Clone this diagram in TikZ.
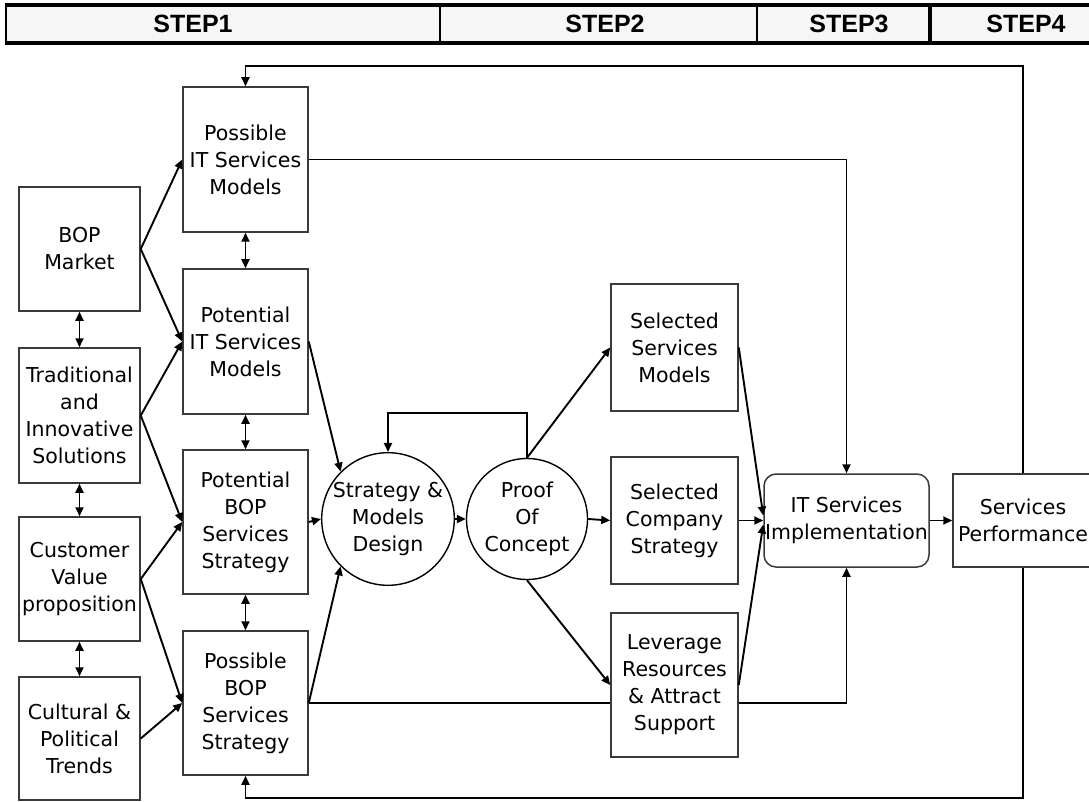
\documentclass[tikz,border=0pt]{standalone}
\usepackage{fontspec}
\setmainfont{DejaVu Sans}
\newfontfamily\hdrfont{Liberation Sans}
\usetikzlibrary{arrows.meta}
\definecolor{hdrfill}{HTML}{F6F6F6}
\definecolor{boxline}{HTML}{3A3A3A}
\begin{document}
\begin{tikzpicture}[x=1pt,y=-1pt,
  txt/.style={align=center, inner sep=0pt, font=\fontsize{20.5}{27}\selectfont},
  box/.style={txt, draw=boxline, line width=1.5pt, fill=white},
  lbox/.style={box, minimum width=121pt},
  mbox/.style={box, minimum width=125pt, minimum height=144pt},
  rbox/.style={box, minimum width=127pt},
  circ/.style={txt, circle, draw=black, line width=1.4pt, minimum size=121pt},
  hdr/.style={inner sep=0pt, font=\hdrfont\bfseries\fontsize{25}{30}\selectfont},
  conn/.style={line width=1.9pt, draw=black},
  arr/.style={conn, -{Triangle[length=9pt,width=8pt]}},
  darr/.style={conn, {Triangle[length=9pt,width=8pt]}-{Triangle[length=9pt,width=8pt]}}
]
\useasboundingbox (0,0) rectangle (1089,802);

% header
\fill[hdrfill] (6,5) rectangle (1095,43);
\draw[line width=3.5pt] (4.5,5) -- (1095,5);
\draw[line width=3.5pt] (4.5,43) -- (1095,43);
\draw[line width=2.5pt] (6,5) -- (6,43);
\draw[line width=2.2pt] (440,5) -- (440,43);
\draw[line width=1.8pt] (757,5) -- (757,43);
\draw[line width=3.2pt] (930,5) -- (930,43);
\node[hdr] (s1) at (193,24) {STEP1};
\node[hdr] (s2) at (605,24) {STEP2};
\node[hdr] (s3) at (849,24) {STEP3};
\node[hdr] (s4) at (1026,24) {STEP4};

% left column
\node[lbox, minimum height=124pt] (bop)  at (79.5,249)   {BOP\\Market};
\node[lbox, minimum height=135pt] (trad) at (79.5,415.5) {Traditional\\and\\Innovative\\Solutions};
\node[lbox, minimum height=124pt] (cust) at (79.5,579)   {Customer\\Value\\proposition};
\node[lbox, minimum height=123pt] (cult) at (79.5,738.5) {Cultural \&\\Political\\Trends};

% middle column
\node[mbox, minimum height=145pt] (pit)    at (245.5,159.5) {Possible\\IT Services\\Models};
\node[mbox, minimum height=145pt] (potit)  at (245.5,341.5) {Potential\\IT Services\\Models};
\node[mbox] (potbop) at (245.5,522) {Potential\\BOP\\Services\\Strategy};
\node[mbox] (posbop) at (245.5,703) {Possible\\BOP\\Services\\Strategy};

% circles
\node[circ] (sm)  at (388,519) {Strategy \&\\Models\\Design};
\node[circ] (poc) at (527,519) {Proof\\Of\\Concept};

% right column
\node[rbox, minimum height=127pt] (ssm) at (674.5,347.5) {Selected\\Services\\Models};
\node[rbox, minimum height=127pt] (scs) at (674.5,520.5) {Selected\\Company\\Strategy};
\node[rbox, minimum height=144pt] (lev) at (674.5,685)   {Leverage\\Resources\\\& Attract\\Support};

\node[box, rounded corners=12pt, minimum width=165pt, minimum height=93pt] (impl) at (846.5,520.5) {IT Services\\Implementation};
\node[box, minimum width=140pt, minimum height=93pt] (perf) at (1023,520.5) {Services\\Performance};

% left to middle
\draw[arr] (bop.east) -- (pit.west);
\draw[arr] (bop.east) -- (potit.west);
\draw[arr] (trad.east) -- (potit.west);
\draw[arr] (trad.east) -- (potbop.west);
\draw[arr] (cust.east) -- (potbop.west);
\draw[arr] (cust.east) -- (posbop.west);
\draw[arr] (cult.east) -- (posbop.west);

% vertical double arrows
\draw[darr] (bop.south) -- (trad.north);
\draw[darr] (trad.south) -- (cust.north);
\draw[darr] (cust.south) -- (cult.north);
\draw[darr] (pit.south) -- (potit.north);
\draw[darr] (potit.south) -- (potbop.north);
\draw[darr] (potbop.south) -- (posbop.north);

% middle to strategy circle
\draw[arr] (potit.east) -- (sm.135);
\draw[arr] (potbop.east) -- (sm.west);
\draw[arr] (posbop.east) -- (sm.225);

% circles
\draw[arr] (sm.east) -- (poc.west);
\draw[arr] (poc.north) -- ++(0,-45) -| (sm.north);
\draw[arr] (poc.north) -- (ssm.west);
\draw[arr] (poc.east) -- (scs.west);
\draw[arr] (poc.south) -- (lev.west);

% right column to implementation
\draw[arr] (ssm.east) -- ([yshift=5pt]impl.west);
\draw[arr] (scs.east) -- (impl.west);
\draw[arr] (lev.east) -- ([yshift=-4pt]impl.west);
\draw[arr] (impl.east) -- (perf.west);

% long connectors
\draw[arr] (pit.east) -| (impl.north);
\draw[conn] (posbop.east) -- (posbop.east -| lev.west);
\draw[arr] (posbop.east -| lev.east) -| (impl.south);

\coordinate (topy) at (0,66);
\coordinate (boty) at (0,798);
\draw[arr] (perf.north) -- (perf.north |- topy) -- (pit.north |- topy) -- (pit.north);
\draw[arr] (perf.south) -- (perf.south |- boty) -- (posbop.south |- boty) -- (posbop.south);
\end{tikzpicture}
\end{document}
